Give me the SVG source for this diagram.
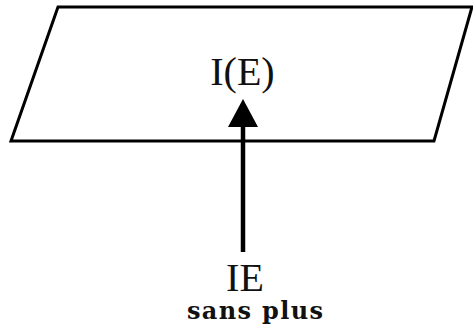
<svg xmlns="http://www.w3.org/2000/svg" width="473" height="331" viewBox="0 0 473 331">
<style>
.shape{fill:#fff;stroke:#000;stroke-width:3;stroke-linejoin:miter}
.lbl{font-family:"Liberation Serif","Times New Roman",serif;font-size:40px;fill:#111;text-anchor:middle}
.sub{font-family:"DejaVu Serif","Liberation Serif",serif;font-size:24px;font-weight:bold;fill:#111;text-anchor:middle}
.conn{stroke:#000;stroke-width:4.5;fill:none}
</style>
<defs>
<marker id="ah" viewBox="0 0 28 30" refX="0" refY="15" markerWidth="28" markerHeight="30" markerUnits="userSpaceOnUse" orient="auto">
<path d="M0,0 L28,15 L0,30 Z" fill="#000"/>
</marker>
</defs>
<rect width="473" height="331" fill="#fff"/>
<g id="node-ie-box">
<polygon class="shape" points="58,7 472,7 434,141 11,141"/>
<text class="lbl" x="242.5" y="85">I(E)</text>
</g>
<g id="node-ie">
<text class="lbl" x="245" y="291">IE</text>
<text class="sub" x="255" y="319" textLength="136" lengthAdjust="spacing">sans plus</text>
</g>
<g id="connectors">
<line class="conn" x1="243" y1="252" x2="243" y2="127" marker-end="url(#ah)"/>
</g>
</svg>
